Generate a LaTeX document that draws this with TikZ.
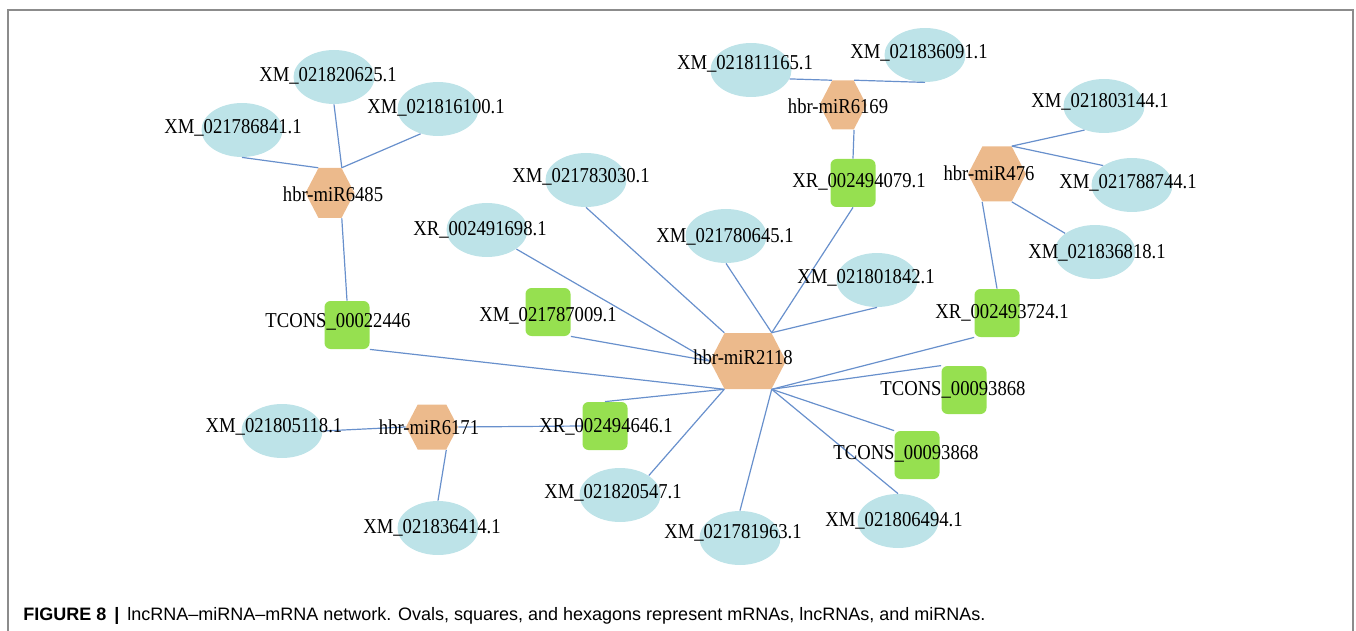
\documentclass[tikz,border=0pt]{standalone}
\usepackage{fontspec}
\setmainfont{Liberation Serif}
\newfontfamily\lblfont{Liberation Serif}[FakeStretch=0.88]
\newfontfamily\capfont{Liberation Sans}
\usetikzlibrary{shapes.geometric, shapes.symbols}
\definecolor{ovalc}{RGB}{189,227,232}
\definecolor{lncc}{RGB}{150,224,80}
\definecolor{mirc}{RGB}{236,186,140}
\definecolor{linkc}{RGB}{104,144,204}
\definecolor{framec}{RGB}{140,140,140}

\begin{document}
\begin{tikzpicture}[x=0.5pt, y=-0.5pt,
    mrna/.style={ellipse, fill=ovalc, inner sep=0pt, minimum width=40.5pt, minimum height=27pt},
    lnc/.style={rectangle, rounded corners=3pt, fill=lncc, inner sep=0pt, minimum width=22.5pt, minimum height=24pt},
    mir/.style={signal, signal to=east and west, signal pointer angle=125, fill=mirc, inner sep=0pt},
    lbl/.style={font=\lblfont\fontsize{10.6}{12}\selectfont, inner sep=0pt},
    link/.style={draw=linkc, line width=0.6pt}]
    \useasboundingbox (0,0) rectangle (1356,631);
    \draw[framec, line width=0.75pt] (8,640) -- (8,10) -- (1353,10) -- (1353,640);

    % miRNAs
    \node[mir, minimum width=24.5pt, minimum height=25pt] (m6485) at (330,193) {};
    \node[mir, minimum width=23.5pt, minimum height=24.5pt] (m6169) at (843,105) {};
    \node[mir, minimum width=29pt, minimum height=27.5pt] (m476) at (997,174) {};
    \node[mir, minimum width=38pt, minimum height=28pt] (m2118) at (748,361) {};
    \node[mir, minimum width=26pt, minimum height=22.5pt] (m6171) at (432,427) {};

    % lncRNAs
    \node[lnc] (tc22446) at (347,325) {};
    \node[lnc] (x787009) at (548,312) {};
    \node[lnc] (x2494079) at (853,183) {};
    \node[lnc] (x2493724) at (997,313) {};
    \node[lnc] (tc93868a) at (964,390) {};
    \node[lnc] (tc93868b) at (917,455) {};
    \node[lnc] (x2494646) at (605,426) {};

    % mRNAs
    \node[mrna] (x786841) at (242,130) {};
    \node[mrna] (x820625) at (334,77) {};
    \node[mrna] (x816100) at (438,109) {};
    \node[mrna] (x783030) at (586,180) {};
    \node[mrna] (x2491698) at (487,230) {};
    \node[mrna] (x780645) at (726,236) {};
    \node[mrna] (x801842) at (877,280) {};
    \node[mrna] (x811165) at (751,70) {};
    \node[mrna] (x836091) at (925,55) {};
    \node[mrna] (x803144) at (1104,106) {};
    \node[mrna] (x788744) at (1132,185) {};
    \node[mrna] (x836818) at (1095,252) {};
    \node[mrna] (x806494) at (898,521) {};
    \node[mrna] (x781963) at (740,538) {};
    \node[mrna] (x820547) at (620,495) {};
    \node[mrna] (x805118) at (282,431) {};
    \node[mrna] (x836414) at (438,528) {};

    % links
    \draw[link] (x786841.south) -- (m6485.115);
    \draw[link] (x820625.south) -- (m6485.65);
    \draw[link] (x816100.-125) -- (m6485.65);
    \draw[link] (m6485.-65) -- (tc22446.north);

    \draw[link] (x811165.-13) -- (m6169.114);
    \draw[link] (m6169.66) -- (x836091.south);
    \draw[link] (m6169.-66) -- (x2494079.north);

    \draw[link] (m476.62) -- (x803144.-129);
    \draw[link] (m476.62) -- (x788744.146);
    \draw[link] (m476.-62) -- (x836818.148);
    \draw[link] (m476.-118) -- (x2493724.north);

    \draw[link] (x805118.east) -- (m6171.west);
    \draw[link] (m6171.east) -- (x2494646.west);
    \draw[link] (m6171.-58) -- (x836414.north);

    \draw[link] (x783030.south) -- (m2118.130);
    \draw[link] (x2491698.-33) -- (m2118.west);
    \draw[link] (x787009.south east) -- (m2118.west);
    \draw[link] (tc22446.south east) -- (m2118.230);
    \draw[link] (x2494646.north) -- (m2118.230);
    \draw[link] (x820547.34) -- (m2118.230);
    \draw[link] (x780645.south) -- (m2118.50);
    \draw[link] (x2494079.south) -- (m2118.50);
    \draw[link] (x801842.south) -- (m2118.50);
    \draw[link] (x2493724.south west) -- (m2118.310);
    \draw[link] (tc93868a.north west) -- (m2118.310);
    \draw[link] (tc93868b.north west) -- (m2118.310);
    \draw[link] (x806494.north) -- (m2118.310);
    \draw[link] (x781963.north) -- (m2118.310);

    % labels
    \node[lbl] (m6485t) at (333,194) {hbr-miR6485};
    \node[lbl] (m6169t) at (838,106) {hbr-miR6169};
    \node[lbl] (m476t) at (989,173) {hbr-miR476};
    \node[lbl] (m2118t) at (743,357) {hbr-miR2118};
    \node[lbl] (m6171t) at (429,427) {hbr-miR6171};
    \node[lbl] (tc22446t) at (338,322) {TCONS\_00022446};
    \node[lbl] (x787009t) at (548,316) {XM\_021787009.1};
    \node[lbl] (x2494079t) at (859,182) {XR\_002494079.1};
    \node[lbl] (x2493724t) at (1002,313) {XR\_002493724.1};
    \node[lbl] (tc93868at) at (953,390) {TCONS\_00093868};
    \node[lbl] (tc93868bt) at (906,454) {TCONS\_00093868};
    \node[lbl] (x2494646t) at (606,427) {XR\_002494646.1};
    \node[lbl] (x786841t) at (233,128) {XM\_021786841.1};
    \node[lbl] (x820625t) at (328,76) {XM\_021820625.1};
    \node[lbl] (x816100t) at (436,108) {XM\_021816100.1};
    \node[lbl] (x783030t) at (581,177) {XM\_021783030.1};
    \node[lbl] (x2491698t) at (480,230) {XR\_002491698.1};
    \node[lbl] (x780645t) at (725,237) {XM\_021780645.1};
    \node[lbl] (x801842t) at (866,278) {XM\_021801842.1};
    \node[lbl] (x811165t) at (745,64) {XM\_021811165.1};
    \node[lbl] (x836091t) at (919,53) {XM\_021836091.1};
    \node[lbl] (x803144t) at (1100,102) {XM\_021803144.1};
    \node[lbl] (x788744t) at (1128,183) {XM\_021788744.1};
    \node[lbl] (x836818t) at (1097,253) {XM\_021836818.1};
    \node[lbl] (x806494t) at (894,521) {XM\_021806494.1};
    \node[lbl] (x781963t) at (733,533) {XM\_021781963.1};
    \node[lbl] (x820547t) at (613,493) {XM\_021820547.1};
    \node[lbl] (x805118t) at (274,427) {XM\_021805118.1};
    \node[lbl] (x836414t) at (432,528) {XM\_021836414.1};

    \node[anchor=base west, inner sep=0pt, font=\capfont\fontsize{9}{11}\selectfont] (cap) at (23,620)
      {\textbf{FIGURE 8}\hspace{4pt}\textbf{|}\hspace{4pt}lncRNA–miRNA–mRNA network. Ovals, squares, and hexagons represent mRNAs, lncRNAs, and miRNAs.};
\end{tikzpicture}
\end{document}
